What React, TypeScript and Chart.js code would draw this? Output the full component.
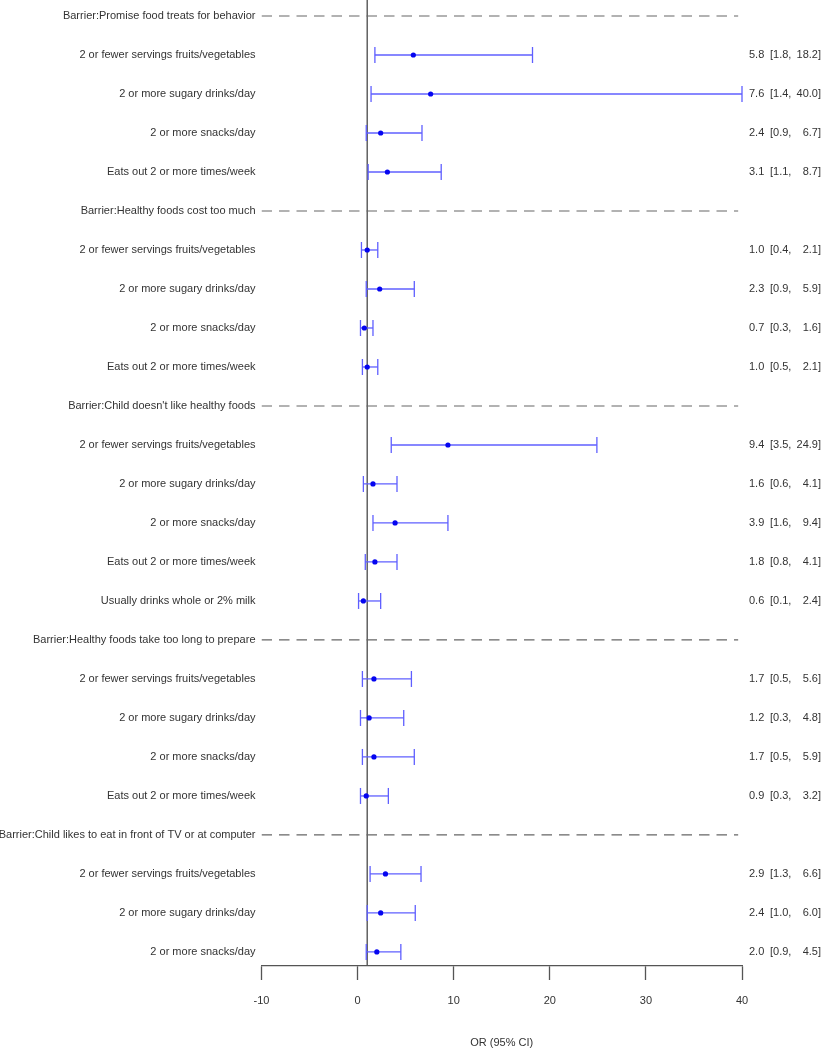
import React, { useEffect, useRef } from "react";
import { Chart, registerables } from "chart.js";

Chart.register(...registerables);

const rowLabels = [
  "Barrier:Promise food treats for behavior",
  "2 or fewer servings fruits/vegetables",
  "2 or more sugary drinks/day",
  "2 or more snacks/day",
  "Eats out 2 or more times/week",
  "Barrier:Healthy foods cost too much",
  "2 or fewer servings fruits/vegetables",
  "2 or more sugary drinks/day",
  "2 or more snacks/day",
  "Eats out 2 or more times/week",
  "Barrier:Child doesn't like healthy foods",
  "2 or fewer servings fruits/vegetables",
  "2 or more sugary drinks/day",
  "2 or more snacks/day",
  "Eats out 2 or more times/week",
  "Usually drinks whole or 2% milk",
  "Barrier:Healthy foods take too long to prepare",
  "2 or fewer servings fruits/vegetables",
  "2 or more sugary drinks/day",
  "2 or more snacks/day",
  "Eats out 2 or more times/week",
  "Barrier:Child likes to eat in front of TV or at computer",
  "2 or fewer servings fruits/vegetables",
  "2 or more sugary drinks/day",
  "2 or more snacks/day",
];

const oddsRatio: (number | null)[] = [
  null, 5.8, 7.6, 2.4, 3.1,
  null, 1.0, 2.3, 0.7, 1.0,
  null, 9.4, 1.6, 3.9, 1.8, 0.6,
  null, 1.7, 1.2, 1.7, 0.9,
  null, 2.9, 2.4, 2.0,
];

const ciLower: (number | null)[] = [
  null, 1.8, 1.4, 0.9, 1.1,
  null, 0.4, 0.9, 0.3, 0.5,
  null, 3.5, 0.6, 1.6, 0.8, 0.1,
  null, 0.5, 0.3, 0.5, 0.3,
  null, 1.3, 1.0, 0.9,
];

const ciUpper: (number | null)[] = [
  null, 18.2, 40.0, 6.7, 8.7,
  null, 2.1, 5.9, 1.6, 2.1,
  null, 24.9, 4.1, 9.4, 4.1, 2.4,
  null, 5.6, 4.8, 5.9, 3.2,
  null, 6.6, 6.0, 4.5,
];

const xTickValues = [-10, 0, 10, 20, 30, 40];
const referenceOR = 1;
const axisTitle = "OR (95% CI)";

const FONT = "'Liberation Sans', Arial, Helvetica, sans-serif";
const TEXT_COLOR = "#333333";
const Y_MIN = -0.41;
const Y_MAX = 24.36;

export default function App() {
  const canvasRef = useRef<HTMLCanvasElement | null>(null);

  useEffect(() => {
    const canvas = canvasRef.current;
    if (!canvas) return;

    const datasets: any[] = [];

    // OR points
    const pts: any[] = [];
    oddsRatio.forEach((v, i) => {
      if (v !== null) pts.push({ x: v, y: i });
    });
    datasets.push({
      type: "scatter",
      data: pts,
      pointRadius: 2.6,
      pointBackgroundColor: "#0505f0",
      pointBorderColor: "#0505f0",
      pointBorderWidth: 0,
      order: 0,
    });

    // CI whiskers with caps
    oddsRatio.forEach((v, i) => {
      if (v === null) return;
      datasets.push({
        type: "line",
        data: [
          { x: ciLower[i], y: i },
          { x: ciUpper[i], y: i },
        ],
        borderColor: "#5f5fff",
        borderWidth: 1.3,
        pointStyle: "line",
        pointRotation: 90,
        pointRadius: 8,
        pointBorderWidth: 1.3,
        pointBorderColor: "#5f5fff",
        pointBackgroundColor: "#5f5fff",
        fill: false,
        order: 1,
        clip: false,
      });
    });

    // Dashed group header lines
    oddsRatio.forEach((v, i) => {
      if (v !== null) return;
      datasets.push({
        type: "line",
        data: [
          { x: -10, y: i },
          { x: 39.6, y: i },
        ],
        borderColor: "#666666",
        borderWidth: 1.2,
        borderDash: [10.5, 7],
        pointRadius: 0,
        fill: false,
        order: 2,
      });
    });

    // Reference line at OR = 1
    datasets.push({
      type: "line",
      data: [
        { x: referenceOR, y: Y_MIN },
        { x: referenceOR, y: Y_MAX },
      ],
      borderColor: "#555555",
      borderWidth: 1.4,
      pointRadius: 0,
      fill: false,
      order: 3,
    });

    const rightTextPlugin = {
      id: "rightText",
      afterDraw(chart: any) {
        const ctx = chart.ctx;
        const yScale = chart.scales.y;
        ctx.save();
        ctx.font = `11px ${FONT}`;
        ctx.fillStyle = TEXT_COLOR;
        ctx.textBaseline = "middle";
        oddsRatio.forEach((v, i) => {
          if (v === null) return;
          const y = yScale.getPixelForValue(i);
          ctx.textAlign = "left";
          ctx.fillText(v.toFixed(1), 749, y);
          ctx.fillText(`[${(ciLower[i] as number).toFixed(1)},`, 770, y);
          ctx.textAlign = "right";
          ctx.fillText(`${(ciUpper[i] as number).toFixed(1)}]`, 821, y);
        });
        ctx.restore();
      },
    };

    const chart = new Chart(canvas, {
      type: "scatter",
      data: { datasets },
      options: {
        animation: false,
        responsive: false,
        maintainAspectRatio: false,
        devicePixelRatio: 1,
        layout: { autoPadding: false, padding: { left: 0, right: 80, top: 0, bottom: 0 } },
        plugins: {
          legend: { display: false },
          tooltip: { enabled: false },
        },
        scales: {
          x: {
            type: "linear",
            position: "bottom",
            min: -10,
            max: 40,
            afterBuildTicks: (axis: any) => {
              axis.ticks = xTickValues.map((v) => ({ value: v }));
            },
            grid: {
              display: true,
              drawOnChartArea: false,
              drawTicks: true,
              tickLength: 14,
              tickColor: "#555555",
              tickWidth: 1.3,
            },
            border: { display: true, color: "#555555", width: 1.3 },
            ticks: {
              color: TEXT_COLOR,
              font: { family: FONT, size: 11 },
              padding: 14.4,
              maxRotation: 0,
              autoSkip: false,
              callback: (v: any) => String(v),
            },
            title: {
              display: true,
              text: axisTitle,
              color: TEXT_COLOR,
              font: { family: FONT, size: 11 },
              padding: { top: 14.8, bottom: 0 },
            },
          },
          y: {
            type: "linear",
            position: "left",
            reverse: true,
            min: Y_MIN,
            max: Y_MAX,
            afterBuildTicks: (axis: any) => {
              axis.ticks = rowLabels.map((_, i) => ({ value: i }));
            },
            afterFit: (axis: any) => {
              axis.width = 261.5;
              axis.paddingTop = 0;
              axis.paddingBottom = 0;
            },
            grid: { display: false, drawTicks: false },
            border: { display: false },
            ticks: {
              color: TEXT_COLOR,
              font: { family: FONT, size: 11 },
              padding: 6,
              autoSkip: false,
              callback: (v: any) => rowLabels[v] ?? "",
            },
          },
        },
      },
      plugins: [rightTextPlugin],
    });

    return () => chart.destroy();
  }, []);

  return (
    <div style={{ position: "absolute", left: 0, top: 0, width: 822, height: 1050, background: "#ffffff" }}>
      <canvas ref={canvasRef} width={822} height={1050} style={{ display: "block", width: 822, height: 1050 }} />
    </div>
  );
}
